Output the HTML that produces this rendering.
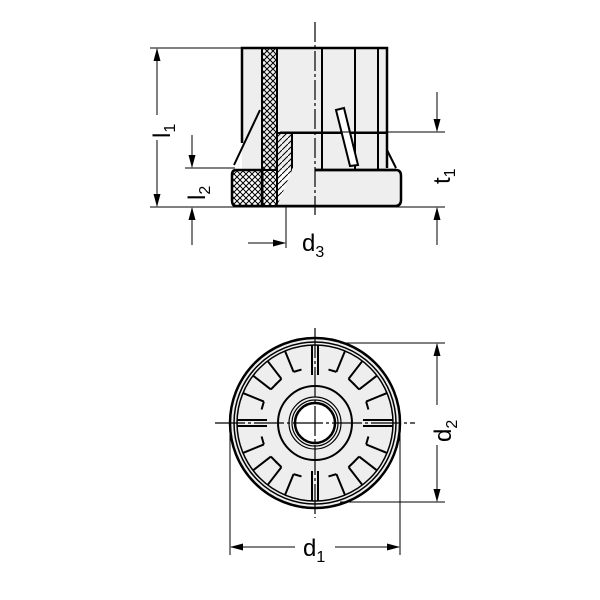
<!DOCTYPE html>
<html><head><style>html,body{margin:0;padding:0;background:#fff}svg{display:block}</style></head><body>
<svg width="600" height="600" viewBox="0 0 600 600" xmlns="http://www.w3.org/2000/svg" font-family="Liberation Sans, sans-serif">
<defs>
<pattern id="ch" width="6" height="6" patternUnits="userSpaceOnUse"><path d="M0,0L6,6M6,0L0,6" stroke="#000" stroke-width="1"/></pattern>
<pattern id="dg" width="6" height="6" patternUnits="userSpaceOnUse"><path d="M0,6L6,0" stroke="#000" stroke-width="1"/></pattern>
<g id="pad"><path d="M308,368L305,346M322,368L325,346"/><path d="M300,370L308,368M322,368L330,370"/></g>
<g id="slot"><path d="M312,345V375M318,345V375"/></g>
</defs>
<g stroke="#000" fill="none">
<!-- side view -->
<rect x="242" y="48" width="145" height="122" fill="#eee" stroke="none"/>
<path d="M242,143V48H387V168" stroke-width="2.5"/>
<path d="M260,110 L234,165" stroke-width="2"/>
<path d="M262,48V206H277V133H387" stroke-width="2"/>
<rect x="262" y="48" width="15" height="122" fill="url(#ch)" stroke-width="2"/>
<path d="M236,170H262V206H236Q232,206 232,200V175Q232,170 236,170Z" fill="url(#ch)" stroke-width="2.5"/>
<rect x="263" y="170" width="14" height="36" fill="url(#ch)"/>
<rect x="277" y="133" width="15" height="73" fill="url(#dg)" stroke-width="2"/>
<path d="M292,170H396Q401,170 401,176V200Q401,206 395,206H277" stroke-width="2.5" fill="#eee"/>
<path d="M292,170H315" stroke="#eee" stroke-width="3"/>
<path d="M315,170H396" stroke-width="2.5"/>
<path d="M322,48V170M355,48V170M378,48V170" stroke-width="2"/>
<path d="M387,150L396,168" stroke-width="2"/>
<path d="M336,110L344,108L358,165L350,166Z" fill="#fff" stroke-width="2"/>
<path d="M315,22V215" stroke-width="1.2" stroke-dasharray="20,3,3,3"/>
<!-- dims side -->
<path d="M150,48H242M185,168H235M150,207H445M280,132H445" stroke-width="1"/>
<path d="M157,115V49M157,140V206M192,135V167M192,245V208M437,92V131M437,245V208M286,206V248M248,243H285" stroke-width="1"/>
<!-- bottom view -->
<circle cx="315" cy="423" r="85" fill="#eee" stroke-width="2.5"/>
<circle cx="315" cy="423" r="81" stroke-width="1.5"/>
<circle cx="315" cy="423" r="78" stroke-width="1.5"/>
<g stroke-width="2">
<use href="#pad" transform="rotate(30 315 423)"/>
<use href="#pad" transform="rotate(60 315 423)"/>
<use href="#pad" transform="rotate(120 315 423)"/>
<use href="#pad" transform="rotate(150 315 423)"/>
<use href="#pad" transform="rotate(210 315 423)"/>
<use href="#pad" transform="rotate(240 315 423)"/>
<use href="#pad" transform="rotate(300 315 423)"/>
<use href="#pad" transform="rotate(330 315 423)"/>
<use href="#slot"/>
<use href="#slot" transform="rotate(90 315 423)"/>
<use href="#slot" transform="rotate(180 315 423)"/>
<use href="#slot" transform="rotate(270 315 423)"/>
</g>
<circle cx="315" cy="423" r="37" fill="#eee" stroke-width="2"/>
<circle cx="315" cy="423" r="26" stroke-width="1.2"/>
<circle cx="315" cy="423" r="23" stroke-width="1.2"/>
<circle cx="315" cy="423" r="20" fill="#fff" stroke-width="2.5"/>
<path d="M315,328V518M215,423H415" stroke-width="1.2" stroke-dasharray="30,3,3,3"/>
<!-- dims bottom -->
<path d="M340,343H445M340,502H445M230,425V555M400,425V555" stroke-width="1"/>
<path d="M437,405V344M437,445V501M295,547H231M335,547H399" stroke-width="1"/>
</g>
<g fill="#000">
<!-- arrowheads -->
<polygon points="153.5,61 157,48 160.5,61"/>
<polygon points="153.5,194 157,207 160.5,194"/>
<polygon points="188.5,155 192,168 195.5,155"/>
<polygon points="188.5,220 192,207 195.5,220"/>
<polygon points="433.5,119 437,132 440.5,119"/>
<polygon points="433.5,220 437,207 440.5,220"/>
<polygon points="273,239.5 286,243 273,246.5"/>
<polygon points="433.5,356 437,343 440.5,356"/>
<polygon points="433.5,489 437,502 440.5,489"/>
<polygon points="243,543.5 230,547 243,550.5"/>
<polygon points="387,543.5 400,547 387,550.5"/>
</g>
<g font-size="24" fill="#000">
<text transform="translate(170,138) rotate(-90)">l<tspan font-size="16" dy="5">1</tspan></text>
<text transform="translate(205,200) rotate(-90)">l<tspan font-size="16" dy="5">2</tspan></text>
<text transform="translate(450,184) rotate(-90)">t<tspan font-size="16" dy="5">1</tspan></text>
<text x="302" y="251">d<tspan font-size="16" dy="6">3</tspan></text>
<text transform="translate(451,442) rotate(-90)">d<tspan font-size="16" dy="6">2</tspan></text>
<text x="303" y="556">d<tspan font-size="16" dy="6">1</tspan></text>
</g>
</svg>
</body></html>
